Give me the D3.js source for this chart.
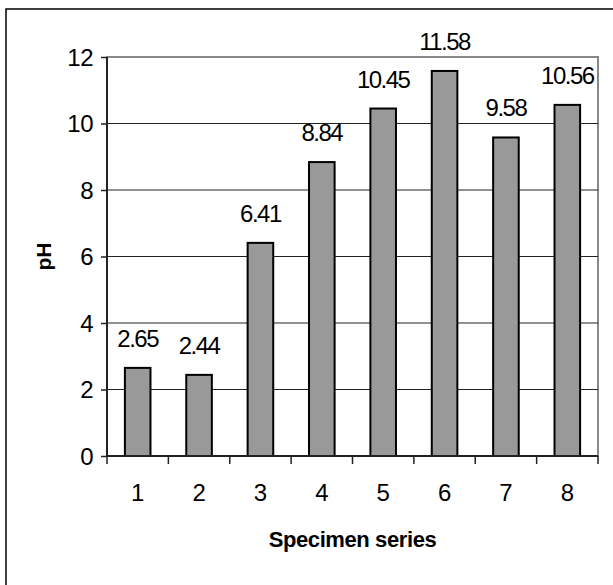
<!DOCTYPE html>
<html><head><meta charset="utf-8">
<script src="https://cdn.jsdelivr.net/npm/d3@7"></script>
<style>body{margin:0;background:#fff}svg{display:block}text{font-family:"Liberation Sans",Arial,sans-serif}</style>
</head><body>
<script>
const categories = ["1","2","3","4","5","6","7","8"];
const values = [2.65, 2.44, 6.41, 8.84, 10.45, 11.58, 9.58, 10.56];
const yTicks = [0, 2, 4, 6, 8, 10, 12];
const xTitle = "Specimen series";
const yTitle = "pH";

const W = 613, H = 585;
const m = {left: 107, right: 598, top: 57, bottom: 456};
const svg = d3.select("body").append("svg").attr("width", W).attr("height", H);

svg.append("rect").attr("x", 6).attr("y", 9).attr("width", W + 10).attr("height", H + 10)
  .attr("fill", "#fff").attr("stroke", "#000").attr("stroke-width", 1.5);

const x = d3.scaleBand().domain(categories).range([m.left, m.right]).paddingInner(0.583).paddingOuter(0.2915);
const xt = d3.scaleBand().domain(categories).range([m.left, m.right]);
const y = d3.scaleLinear().domain([0, 12]).range([m.bottom, m.top]);

// plot border
svg.append("rect").attr("x", m.left).attr("y", m.top).attr("width", m.right - m.left).attr("height", m.bottom - m.top)
  .attr("fill", "none").attr("stroke", "#888").attr("stroke-width", 2);

// gridlines
svg.append("g").selectAll("line").data(yTicks.filter(d => d > 0 && d < 12)).join("line")
  .attr("x1", m.left).attr("x2", m.right).attr("y1", d => y(d)).attr("y2", d => y(d))
  .attr("stroke", "#222").attr("stroke-width", 1);

// bars
svg.append("g").selectAll("rect").data(values).join("rect")
  .attr("x", (d, i) => x(categories[i])).attr("width", x.bandwidth())
  .attr("y", d => y(d)).attr("height", d => y(0) - y(d))
  .attr("fill", "#999999").attr("stroke", "#000").attr("stroke-width", 2);

// value labels
svg.append("g").selectAll("text").data(values).join("text")
  .attr("x", (d, i) => x(categories[i]) + x.bandwidth() / 2).attr("y", d => y(d) - 21)
  .attr("text-anchor", "middle").attr("font-size", 24).attr("letter-spacing", -1.5)
  .text(d => d.toFixed(2));

// y axis
const ya = svg.append("g").attr("transform", `translate(${m.left},0)`)
  .call(d3.axisLeft(y).tickValues(yTicks).tickSize(6).tickPadding(8).tickFormat(d3.format("d")));
ya.select(".domain").attr("stroke", "#222").attr("stroke-width", 2).attr("d", `M0,${m.top}V${m.bottom}`);
ya.selectAll(".tick line").attr("stroke", "#222").attr("stroke-width", 1.5);
ya.selectAll(".tick text").attr("font-size", 24).attr("font-family", "Liberation Sans, Arial").attr("fill", "#000").attr("dy", "0.35em").attr("letter-spacing", -0.5);

// x axis
const xa = svg.append("g").attr("transform", `translate(0,${m.bottom})`)
  .call(d3.axisBottom(xt).tickSize(0).tickPadding(0));
xa.select(".domain").attr("stroke", "#222").attr("stroke-width", 2).attr("d", `M${m.left},0H${m.right}`);
xa.selectAll(".tick text").attr("font-size", 24).attr("font-family", "Liberation Sans, Arial").attr("fill", "#000").attr("y", 45).attr("dy", 0);
svg.append("g").selectAll("line").data(categories.concat(["end"])).join("line")
  .attr("x1", (d, i) => m.left + i * xt.step()).attr("x2", (d, i) => m.left + i * xt.step())
  .attr("y1", m.bottom).attr("y2", m.bottom + 8).attr("stroke", "#222").attr("stroke-width", 1.5);

// titles
svg.append("text").attr("x", (m.left + m.right) / 2).attr("y", 547).attr("text-anchor", "middle")
  .attr("font-size", 22).attr("font-weight", "bold").attr("letter-spacing", -0.4).text(xTitle);
svg.append("text").attr("transform", `translate(51,${(m.top + m.bottom) / 2}) rotate(-90)`)
  .attr("text-anchor", "middle").attr("font-size", 21).attr("font-weight", "bold").text(yTitle);
</script>
</body></html>
